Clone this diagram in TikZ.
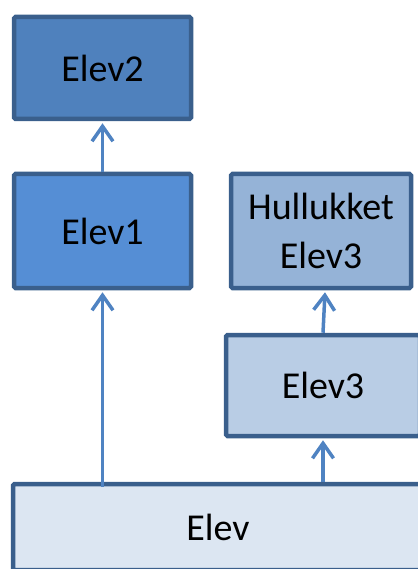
\documentclass[tikz,border=0pt]{standalone}
\usepackage{fontspec}
\setmainfont{Carlito}
\usetikzlibrary{arrows.meta}
\definecolor{edgeblue}{HTML}{3A5F8C}
\definecolor{linkblue}{HTML}{4F83C2}
\definecolor{fillA}{HTML}{4F81BD}
\definecolor{fillB}{HTML}{558ED5}
\definecolor{fillC}{HTML}{95B3D7}
\definecolor{fillD}{HTML}{B9CDE5}
\definecolor{fillE}{HTML}{DCE6F2}
\tikzset{
  elevbox/.style={draw=edgeblue, line width=4.5pt, rounded corners=1.5pt, align=center,
    font=\fontsize{38}{49}\selectfont, inner sep=0pt},
  arr/.style={linkblue, line width=3.5pt, -{Straight Barb[length=15pt, width=21pt, line width=3.5pt]}}
}
\begin{document}
\begin{tikzpicture}[x=1pt, y=-1pt]
  \useasboundingbox (0,0) rectangle (417,569);

  \node[elevbox, fill=fillE, minimum width=410pt, minimum height=86pt] (elev) at (218,527) {Elev};
  \node[elevbox, fill=fillB, minimum width=177pt, minimum height=114pt] (elev1) at (102.5,231) {Elev1};
  \node[elevbox, fill=fillA, minimum width=177pt, minimum height=102pt] (elev2) at (102.5,68) {Elev2};
  \node[elevbox, fill=fillD, minimum width=194pt, minimum height=101pt] (elev3) at (323,385.5) {Elev3};
  \node[elevbox, fill=fillC, minimum width=180pt, minimum height=114pt] (hull) at (321,231) {Hullukket\\Elev3};

  \draw[arr] ([yshift=-5pt]elev.north -| elev1.south) -- ([yshift=-2pt]elev1.south);
  \draw[arr] (elev1.north) -- ([yshift=-2pt]elev2.south);
  \draw[arr] (elev.north -| elev3.south) -- ([yshift=-2pt]elev3.south);
  \draw[arr] (elev3.north) -- ([xshift=4pt,yshift=-2pt]hull.south);
\end{tikzpicture}
\end{document}
